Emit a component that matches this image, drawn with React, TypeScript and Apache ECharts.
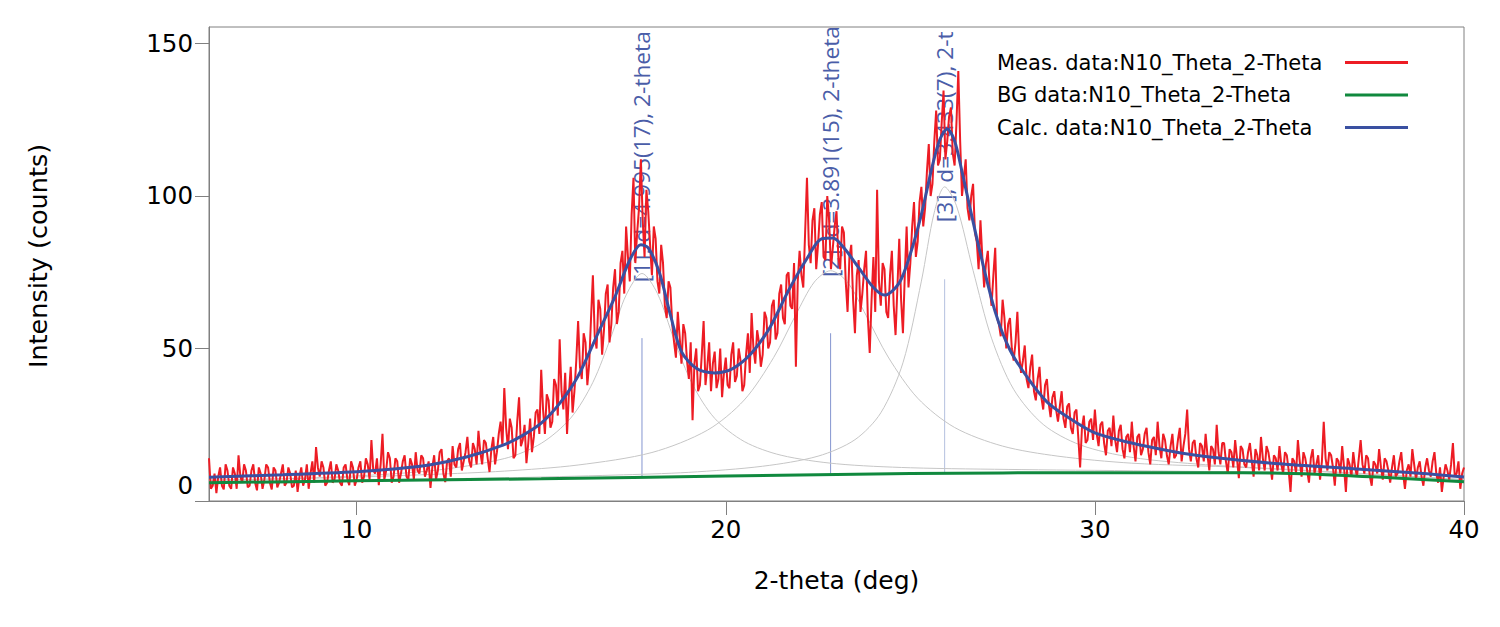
import React, { useEffect, useRef } from 'react';
import * as echarts from 'echarts';

// Measured data: read at 6.00, 6.10, ... 40.00 deg (step 0.1)
const measStart = 6;
const measStep = 0.1;
const measured = [
  14, 5, 2.6, 11, 3.8, 10, 4, 9, 15, 6,
  10, 5, 12, 3.5, 9, 7, 11, 3.8, 10, 6,
  12, 6, 9, 5, 3, 11, 7, 4, 13, 17.7,
  8, 11, 6, 13, 7, 10, 5, 12, 5.2, 11,
  7, 13, 8, 12, 20, 9, 5.2, 22, 10, 14,
  8, 13, 9, 15, 7, 12, 16, 9, 14, 10,
  4.3, 15, 10, 17, 6.2, 14, 18, 11, 19, 13,
  21, 11, 17, 23, 12, 19, 9.5, 21, 16, 26,
  37, 17, 24, 15, 34, 20, 12.4, 27, 21, 30,
  43, 22, 33, 26, 38, 53, 30, 22, 44, 36,
  59, 40, 52, 45, 74, 50, 63, 56, 71, 58,
  76, 62, 82, 90, 72, 106, 88, 112, 80, 95,
  74, 86, 68, 78, 60, 70, 52, 62, 45, 55,
  40, 26.5, 50, 38, 59, 44, 36, 49, 40, 34,
  47, 37, 52, 41, 46, 38, 55, 61.6, 45, 52,
  48, 60, 52, 66, 55, 71, 58, 75, 63, 44,
  82, 70, 106, 78, 96, 84, 98, 79, 92, 83,
  95, 76, 88, 62, 84, 55, 79, 68, 82, 48.5,
  80, 102, 64, 76, 60, 82, 54.4, 86, 55, 90,
  78, 98, 85, 103, 96, 117, 104, 128, 112, 134.6,
  118, 129, 110, 141, 100, 112, 92, 104, 85, 92,
  70, 82, 64, 83, 58, 66, 50, 60, 46, 62,
  42, 51, 37, 48, 33, 44, 30, 40, 27.5, 36,
  26, 36, 24, 32, 22, 30, 11, 28, 20, 27,
  30, 18, 26, 15, 24, 28, 16, 25, 14, 22,
  26, 13, 22, 17, 24, 12, 21, 26, 14, 20,
  12, 22, 15, 24, 18, 30, 13, 20, 11, 18,
  22, 10, 17, 25, 12, 19, 9, 16, 20, 7.5,
  17, 11, 19, 8, 15, 21, 10, 16, 7, 14,
  18, 9, 15, 3, 13, 20, 8, 14, 6, 17,
  12, 7, 26, 10, 15, 5, 13, 18, 3, 12,
  16, 8, 20, 9, 14, 5, 12, 17, 7, 13,
  6, 15, 9, 16, 4, 12, 17, 7, 13, 5,
  14, 8, 16, 6, 3, 12, 7, 19, 9, 4,
  11,
];
// Measured data read at the half steps 6.05, 6.15, ... 39.95 deg
const measuredMid = [
  4, 9, 8, 5, 12, 5, 11, 4, 8, 12,
  4.5, 10, 6, 11, 4, 12, 6, 11, 4.5, 9,
  5, 11, 4.5, 10, 8, 5, 12, 9, 6, 11,
  13, 5, 10, 6, 12, 6, 11, 7, 13, 5,
  11, 6, 14, 7, 10, 14, 12, 7, 16, 6,
  14, 6, 13, 8, 14, 7, 10, 15, 8, 13,
  11, 7, 16, 9, 13, 8, 12, 17, 10, 16,
  13, 19, 12, 16, 20, 14, 17, 12, 22, 18,
  24, 27, 14, 26, 18, 25, 19, 16, 29, 22,
  30, 35, 24, 40, 28, 36, 42, 35, 29, 46,
  44, 55, 38, 60, 54, 66, 48, 68, 52, 70,
  58, 78, 68, 80, 94, 78, 96, 92, 102, 84,
  90, 72, 84, 64, 72, 58, 47, 54, 58, 46,
  52, 45, 36, 48, 38, 52, 45, 37, 50, 42,
  38, 48, 39, 50, 36, 48, 42, 50, 56, 44,
  62, 50, 64, 53, 68, 60, 74, 64, 78, 72,
  74, 88, 84, 92, 76, 94, 80, 100, 76, 90,
  80, 90, 72, 80, 66, 74, 62, 76, 60, 66,
  62, 72, 78, 62, 74, 64, 70, 66, 74, 70,
  90, 80, 98, 90, 108, 100, 118, 110, 124, 112,
  126, 114, 124, 118, 106, 96, 100, 88, 76, 80,
  78, 70, 74, 60, 54, 60, 58, 50, 52, 48,
  46, 40, 44, 36, 40, 34, 38, 32, 34, 30,
  31, 27, 31, 24, 29, 21, 24, 19, 26, 20,
  22, 25, 19, 23, 18, 20, 23, 17, 21, 16,
  18, 21, 15, 22, 16, 20, 15, 18, 22, 15,
  18, 14, 20, 13, 22, 17, 19, 14, 19, 13,
  15, 18, 12, 16, 19, 13, 17, 11, 14, 18,
  12, 16, 13, 17, 10, 14, 18, 12, 15, 10,
  12, 16, 10, 14, 9, 13, 16, 10, 14, 9,
  15, 13, 14, 16, 11, 14, 9, 11, 14, 8,
  11, 14, 12, 15, 8, 13, 9, 11, 14, 10,
  11, 8, 13, 9, 10, 8, 12, 11, 8, 11,
  10, 13, 9, 11, 8, 10, 12, 8, 13, 9,
];

// Background
const bgX = [6, 10, 15, 20, 25, 30, 34, 36, 38, 40];
const bgY = [6.0, 6.6, 7.3, 8.2, 9.0, 9.3, 9.3, 8.8, 7.6, 6.3];

// Calculated profile
const calcX = [6, 8, 10, 11, 12, 13, 14, 14.5, 15, 15.5, 16, 16.5, 17, 17.4, 17.7, 17.9, 18.2, 18.5, 18.8, 19.2, 19.7, 20.2, 20.7, 21.2, 21.7, 22.2, 22.6, 22.9, 23.2, 23.6, 24.0, 24.3, 24.7, 25.0, 25.3, 25.6, 25.8, 26.0, 26.2, 26.4, 26.6, 26.9, 27.3, 27.7, 28.2, 28.7, 29.2, 30, 31, 32, 33, 35, 37, 39, 40];
const calcY = [7.8, 8.6, 9.6, 10.5, 11.9, 14.5, 18.5, 21.5, 25.5, 32, 41, 54, 67, 79, 84, 83, 75, 61, 49, 43.5, 42, 43.5, 48.5, 57, 69, 79.5, 86, 86.2, 83, 76.5, 70, 67.5, 71.5, 81, 94, 110, 118.5, 122, 118, 108, 97, 81, 62, 49.5, 40, 32.5, 28, 22.3, 19, 16.5, 14.6, 12.2, 10.6, 8.9, 7.9];

// Individual peak profiles (gray)
const comp1X = [6, 9, 12, 14, 15, 15.8, 16.4, 16.9, 17.3, 17.73, 18.15, 18.6, 19.1, 19.7, 20.5, 21.5, 23, 25, 28, 32, 36, 40];
const comp1Y = [6.8, 7.7, 9.9, 13.9, 18.9, 27.2, 38.9, 54.1, 67.5, 74.6, 68, 52.9, 38.2, 27.1, 19.5, 15.0, 12.2, 10.9, 10.3, 9.8, 9.1, 6.5];
const comp2X = [6, 9, 12, 14, 16, 18, 19.5, 20.5, 21.3, 21.9, 22.4, 22.84, 23.3, 23.8, 24.4, 25.2, 26.2, 27.5, 29, 31, 34, 37, 40];
const comp2Y = [6.8, 7.5, 8.7, 9.8, 11.8, 15.9, 23.2, 33.1, 47.1, 61.1, 71.8, 75.5, 71.7, 60.9, 47.2, 33.7, 24.1, 18.0, 14.7, 12.4, 11.0, 9.0, 7.0];
const comp3X = [6, 10, 14, 17, 19, 21, 22.5, 23.5, 24.2, 24.8, 25.3, 25.65, 25.93, 26.25, 26.7, 27.2, 27.8, 28.6, 29.6, 31, 33, 35.5, 38, 40];
const comp3Y = [6.2, 6.9, 7.6, 8.5, 9.4, 11.4, 14.7, 20.1, 28.9, 45.3, 72.1, 94.7, 103, 96.8, 75.6, 53.4, 36.6, 25.1, 18.4, 14.3, 11.9, 10.2, 8.5, 7.0];

// Peak markers and labels (labels show the part visible in the plot)
const peakPos = [17.73, 22.84, 25.93];
const markerBottom = [7.6, 8.4, 9.0];
const markerTop = [53.4, 55.0, 72.7];
const labelStart = [71.7, 73.4, 91.4];
const peakLabels = [
  '[1], d=4.995(17), 2-theta',
  '[2], d=3.891(15), 2-theta',
  '[3], d=3.433(7), 2-t',
];

const xTicks = [10, 20, 30, 40];
const yTicks = [0, 50, 100, 150];

const seriesNames = [
  'Meas. data:N10_Theta_2-Theta',
  'BG data:N10_Theta_2-Theta',
  'Calc. data:N10_Theta_2-Theta',
];

const FONT = 'DejaVu Sans';

export default function App() {
  const ref = useRef<HTMLDivElement>(null);

  useEffect(() => {
    const chart = echarts.init(ref.current as HTMLDivElement, null, { renderer: 'svg' });
    const pair = (xs: number[], ys: number[]) => xs.map((x, i) => [x, ys[i]]);
    const measData: number[][] = [];
    measured.forEach((v, i) => {
      measData.push([+(measStart + i * measStep).toFixed(2), v]);
      if (i < measuredMid.length) {
        measData.push([+(measStart + (i + 0.5) * measStep).toFixed(3), measuredMid[i]]);
      }
    });
    const markerColors = ['#8596d0', '#8596d0', '#b4c0df'];
    const axisColor = '#808080';

    const compSeries = [pair(comp1X, comp1Y), pair(comp2X, comp2Y), pair(comp3X, comp3Y)].map((d) => ({
      type: 'line',
      data: d,
      smooth: 0.3,
      symbol: 'none',
      silent: true,
      lineStyle: { color: '#c6c6c6', width: 1 },
      itemStyle: { color: '#c6c6c6' },
    }));

    const option: any = {
      animation: false,
      backgroundColor: '#ffffff',
      grid: {
        left: 209,
        right: 36,
        top: 27,
        bottom: 126,
        show: true,
        borderColor: axisColor,
        borderWidth: 1,
        backgroundColor: 'transparent',
      },
      legend: {
        data: seriesNames,
        orient: 'vertical',
        right: 87,
        top: 47,
        align: 'right',
        icon: 'rect',
        itemWidth: 63,
        itemHeight: 3,
        itemGap: 11.5,
        selectedMode: false,
        formatter: (n: string) => `{a|${n}}`,
        textStyle: {
          rich: {
            a: { width: 343, align: 'left', fontSize: 21, fontFamily: FONT, color: '#000', lineHeight: 24 },
          },
        },
      },
      xAxis: {
        type: 'value',
        min: 6,
        max: 40,
        name: '2-theta (deg)',
        nameLocation: 'middle',
        nameGap: 67,
        nameTextStyle: { fontSize: 25, fontFamily: FONT, color: '#000' },
        axisLine: { show: true, onZero: false, lineStyle: { color: axisColor, width: 1 } },
        axisTick: { show: true, length: 14, customValues: xTicks, lineStyle: { color: axisColor } },
        axisLabel: { customValues: xTicks, margin: 16, fontSize: 24.5, fontFamily: FONT, color: '#000' },
        splitLine: { show: false },
      },
      yAxis: {
        type: 'value',
        min: 0,
        max: 155.4,
        name: 'Intensity (counts)',
        nameLocation: 'middle',
        nameGap: 158,
        nameRotate: 90,
        nameTextStyle: { fontSize: 25.5, fontFamily: FONT, color: '#000', padding: [0, 0, 0, 16] },
        axisLine: { show: true, onZero: false, lineStyle: { color: axisColor, width: 1 } },
        axisTick: { show: true, length: 14, customValues: yTicks, lineStyle: { color: axisColor } },
        axisLabel: {
          customValues: yTicks,
          margin: 16,
          fontSize: 24.5,
          fontFamily: FONT,
          color: '#000',
          formatter: (v: number) => (v === 0 ? '{z|0}' : String(v)),
          rich: { z: { fontSize: 24.5, fontFamily: FONT, color: '#000', padding: [0, 0, 32, 0] } },
        },
        splitLine: { show: false },
      },
      series: [
        ...compSeries,
        {
          type: 'custom',
          silent: true,
          data: peakPos.map((p, i) => [p, markerBottom[i], markerTop[i]]),
          encode: { x: 0, y: [1, 2] },
          renderItem: (params: any, api: any) => {
            const a = api.coord([api.value(0), api.value(1)]);
            const b = api.coord([api.value(0), api.value(2)]);
            return {
              type: 'line',
              shape: { x1: a[0], y1: a[1], x2: b[0], y2: b[1] },
              style: { stroke: markerColors[params.dataIndex], lineWidth: 1 },
            };
          },
        },
        {
          name: seriesNames[0],
          type: 'line',
          data: measData,
          symbol: 'none',
          lineStyle: { color: '#ed1c24', width: 2 },
          itemStyle: { color: '#ed1c24' },
          color: '#ed1c24',
        },
        {
          name: seriesNames[1],
          type: 'line',
          data: pair(bgX, bgY),
          smooth: 0.3,
          symbol: 'none',
          lineStyle: { color: '#10893e', width: 3 },
          itemStyle: { color: '#10893e' },
          color: '#10893e',
        },
        {
          name: seriesNames[2],
          type: 'line',
          data: pair(calcX, calcY),
          smooth: 0.3,
          symbol: 'none',
          lineStyle: { color: '#3a50a1', width: 3 },
          itemStyle: { color: '#3a50a1' },
          color: '#3a50a1',
        },
        {
          type: 'custom',
          silent: true,
          clip: true,
          data: peakPos.map((p, i) => [p, labelStart[i]]),
          encode: { x: 0, y: 1 },
          renderItem: (params: any, api: any) => {
            const a = api.coord([api.value(0), api.value(1)]);
            return {
              type: 'text',
              x: a[0],
              y: a[1],
              rotation: Math.PI / 2,
              style: {
                text: peakLabels[params.dataIndex],
                fill: '#4a5da8',
                fontSize: 22.7,
                fontFamily: 'Open Sans',
                align: 'left',
                verticalAlign: 'middle',
              },
            };
          },
        },
      ],
    };

    chart.setOption(option);
    return () => chart.dispose();
  }, []);

  return <div ref={ref} style={{ position: 'fixed', left: 0, top: 0, width: 1500, height: 627 }} />;
}
